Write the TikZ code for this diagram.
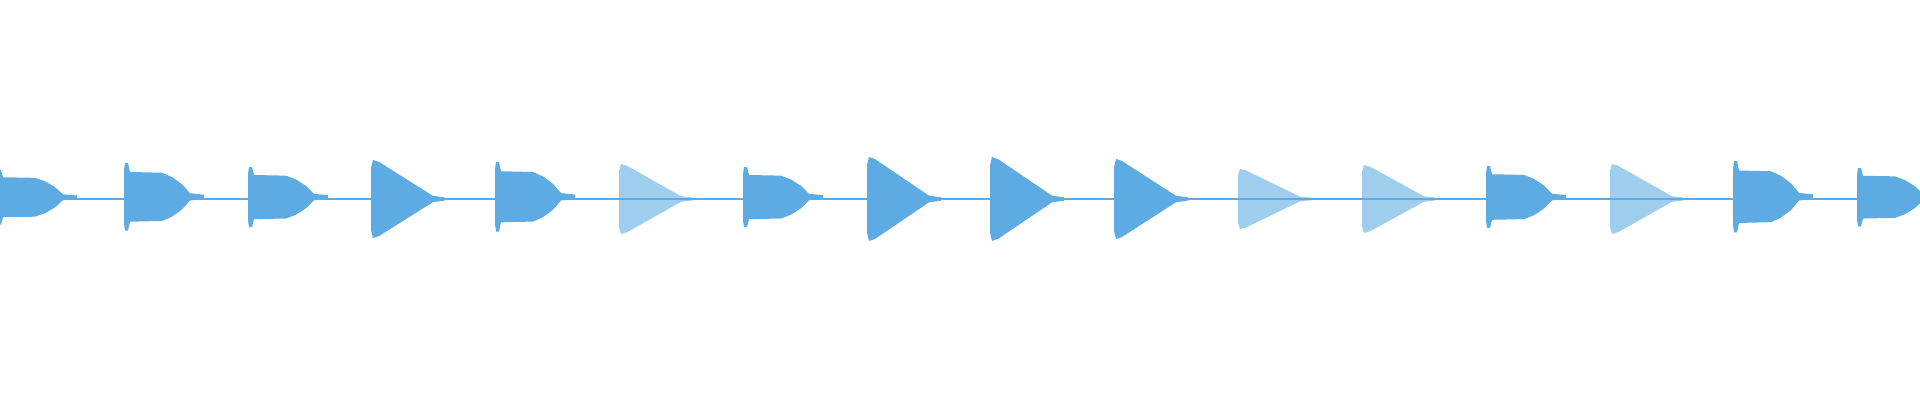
\documentclass[tikz,border=0pt]{standalone}
\definecolor{wave}{RGB}{93,171,226}
\newcommand\beatA[2]{%
 \fill[wave] (#1,0) -- ++(0,0.78*#2) -- ++(1,0.22*#2) -- ++(3,0) -- ++(2,-0.25*#2) -- ++(32,-0.02*#2) -- ++(10,-0.12*#2) -- ++(10,-0.2*#2) -- ++(8,-0.25*#2) -- ++(14,-0.04*#2)
  -- ++(0,-0.12*#2) -- ++(-14,-0.04*#2) -- ++(-8,-0.25*#2) -- ++(-10,-0.2*#2) -- ++(-10,-0.12*#2) -- ++(-32,-0.02*#2) -- ++(-2,-0.25*#2) -- ++(-3,0) -- ++(-1,0.22*#2) -- cycle;}
\newcommand\beatB[3]{%
 \fill[wave,fill opacity=#3] (#1,0) -- ++(0,0.8*#2) -- ++(2,0.2*#2) -- ++(6,-0.05*#2) -- ++(54,-0.87*#2) -- ++(12,-0.04*#2)
  -- ++(0,-0.08*#2) -- ++(-12,-0.04*#2) -- ++(-54,-0.87*#2) -- ++(-6,-0.05*#2) -- ++(-2,0.2*#2) -- cycle;}
\begin{document}
\begin{tikzpicture}[x=1pt,y=1pt]
\useasboundingbox (0,0) rectangle (1920,400);
\begin{scope}[shift={(0,201)}]
\draw[wave,line width=1.1pt] (0,0) -- (1920,0);
\beatA{-3}{29}
\beatA{124}{36}
\beatA{248}{32}
\beatB{371}{39}{1}
\beatA{495}{37}
\beatB{619}{35}{0.6}
\beatA{743}{32}
\beatB{867}{42}{1}
\beatB{990}{42}{1}
\beatB{1114}{40}{1}
\beatB{1238}{30}{0.6}
\beatB{1362}{34}{0.6}
\beatA{1486}{33}
\beatB{1610}{35}{0.6}
\beatA{1733}{38}
\beatA{1857}{31}
\end{scope}
\end{tikzpicture}
\end{document}
